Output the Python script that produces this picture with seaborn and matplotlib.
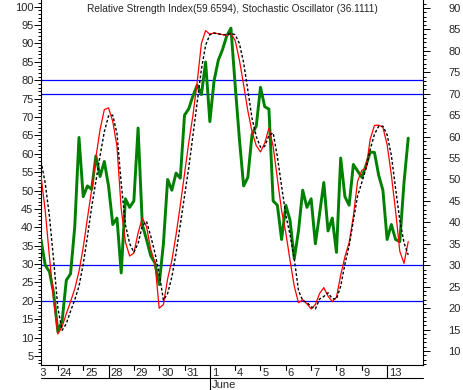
"""
RSI + Stochastic oscillator panel, redrawn with seaborn
"""

import numpy as np
import matplotlib
matplotlib.use("Agg")
import matplotlib.pyplot as plt
import matplotlib.transforms as mtransforms
from matplotlib.lines import Line2D
from matplotlib.patches import Rectangle
from matplotlib.ticker import MultipleLocator
import seaborn as sns

# ---- data (6 bars per trading day) ----
days = ['23', '24', '25', '28', '29', '30', '31', '1', '4', '5', '6', '7', '8', '9', '13']
week_breaks = ['28', '1', '13']
month_start = {'1': 'June'}
bars_per_day = 6
first_day_bar = -2

rsi = [
    36, 30, 28.5, 23.5, 14.5, 17, 26.5, 28, 39, 59.8,
    46, 48.5, 47.7, 55.5, 50.7, 54.2, 48.5, 39.5, 41, 28.2,
    45.5, 43.5, 45, 62, 39.5, 36, 32.2, 30.5, 25.5, 35,
    50, 47.5, 51.5, 50.3, 65, 66.5, 69.5, 72, 69.8, 77.4,
    63.5, 73, 77.8, 80.3, 83.5, 85.3, 72, 59.5, 48.5, 50.5,
    60.5, 62.5, 71.5, 67, 66.4, 45, 44, 36, 44, 40.5,
    31.5, 38, 47.5, 43.5, 45.5, 35, 42, 49.3, 38, 41,
    33, 55, 46, 44, 53.5, 52, 50.5, 53.3, 56.4, 56.3,
    51, 47.5, 36, 39.5, 36, 35.5, 49.3, 59.6594,
]

stoch_k = [
    54, 44.5, 32, 20, 11, 13, 16.5, 19.8, 23.3, 28,
    34.5, 42.5, 50.2, 59, 66.6, 72, 72.5, 68.8, 62, 45,
    36, 32.2, 33, 38.5, 42.5, 40.2, 34, 30.3, 18, 19,
    26, 31, 38, 46, 54.5, 63, 70.5, 79.5, 90, 93.5,
    92.5, 92.9, 92.6, 92.4, 92.2, 92.7, 90.8, 85.5, 78.8, 71.7,
    66, 62.2, 60.5, 62.9, 67, 62, 53.2, 44.5, 38.5, 31,
    24, 19.5, 20.3, 19.2, 17.8, 19, 22, 23.6, 21.3, 19.8,
    21, 27, 32, 35.8, 43, 52.5, 55.5, 56, 64, 67.7,
    67.8, 67.2, 62.5, 54.2, 44.5, 33.5, 30.2, 36.1111,
]

stoch_d = [
    58, 52, 43, 31, 18, 12, 13.8, 17.2, 20.3, 24,
    30, 37.5, 45.5, 52.5, 59.5, 66, 70.3, 70.5, 65.5, 52,
    40.7, 35.6, 33.2, 35.6, 40.4, 41.6, 37.6, 33, 27.5, 20.2,
    22, 26.5, 33, 40.7, 48.5, 56.2, 65, 74, 83, 89.5,
    92.4, 92.8, 92.6, 92.4, 92.4, 92.7, 92.4, 90, 84.8, 77.3,
    69.6, 64.7, 61.8, 62, 65, 65.7, 59.2, 51.2, 43.3, 38,
    31.5, 22.8, 20.1, 19.6, 18.4, 17.8, 20.5, 21.2, 22.2, 20.6,
    20.5, 24, 30, 35, 41.8, 48.5, 52.2, 56, 61.2, 65.3,
    67.5, 67.5, 65.2, 59.6, 50.6, 42, 35.8, 32.5,
]

rsi_levels = [70, 30]
stoch_levels = [80, 20]

title = "Relative Strength Index(59.6594), Stochastic Oscillator (36.1111)"

# ---- style ----
sns.set_style("white")
plt.rcParams['font.family'] = ['Liberation Sans', 'DejaVu Sans']

W, H = 464, 390
fig = plt.figure(figsize=(W / 100, H / 100), dpi=100)
ax = fig.add_axes([41 / W, 25 / H, 382 / W, 365 / H])
ax2 = ax.twinx()

bars = np.arange(len(rsi))

# reference levels (under the lines)
for lvl in rsi_levels:
    ax.axhline(lvl, color='#0000ff', lw=0.9, zorder=1)
level_trans = mtransforms.blended_transform_factory(ax.transAxes, ax2.transData)
for lvl in stoch_levels:
    ax.plot([0, 1], [lvl, lvl], transform=level_trans, color='#0000ff', lw=0.9, zorder=1)

sns.lineplot(x=bars, y=rsi, ax=ax, color='#008000', linewidth=2.1, zorder=3)
sns.lineplot(x=bars, y=stoch_k, ax=ax2, color='#ff0000', linewidth=0.9)
sns.lineplot(x=bars, y=stoch_d, ax=ax2, color='black', linewidth=1.0, linestyle=(0, (2, 1.5)))

ax.set_xlim(0, 90.5)
ax.set_ylim(6.73, 91.87)
ax2.set_ylim(2.56, 101.82)

# y axes: RSI on the right, stochastic on the left
ax.yaxis.tick_right()
ax2.yaxis.tick_left()
for a, side_pad in ((ax, 13.5), (ax2, 0.6)):
    a.yaxis.set_major_locator(MultipleLocator(5))
    a.yaxis.set_minor_locator(MultipleLocator(1))
    a.tick_params(axis='y', which='major', direction='out', length=4.8, width=0.7,
                  color='black', labelsize=8, pad=side_pad)
    a.tick_params(axis='y', which='minor', direction='out', length=2.4, width=0.7, color='black')
    a.set_ylabel('')
    a.set_xlabel('')
    a.set_xticks([])
ax.tick_params(axis='y', which='both', left=False, labelleft=False, right=True, labelright=True)
ax2.tick_params(axis='y', which='both', right=False, labelright=False, left=True, labelleft=True)

for s in ax2.spines.values():
    s.set_visible(False)
ax.spines['top'].set_visible(False)
for s in ('left', 'right', 'bottom'):
    ax.spines[s].set_color('black')
    ax.spines[s].set_linewidth(0.8)

# ---- date axis drawn by hand ----
def fy(px):
    return (H - px) / H

xtrans = mtransforms.blended_transform_factory(ax.transData, fig.transFigure)
label_trans = mtransforms.offset_copy(xtrans, fig=fig, x=2, y=0, units='dots')
clip_rect = Rectangle((41 / W, 0), 382 / W, 1, transform=fig.transFigure)

for k, d in enumerate(days):
    pos = first_day_bar + k * bars_per_day
    if d in week_breaks:
        bottom = 390 if d in month_start else 378
        fig.add_artist(Line2D([pos, pos], [fy(365), fy(bottom)], transform=xtrans,
                              color='black', lw=0.8))
    elif pos >= 0:
        fig.add_artist(Line2D([pos, pos], [fy(365), fy(370)], transform=xtrans,
                              color='black', lw=0.8))
    t = fig.text(pos, fy(372.5), d, transform=label_trans, ha='left', va='center', fontsize=8)
    t.set_clip_path(clip_rect)
    if d in month_start:
        fig.text(pos, fy(385), month_start[d], transform=label_trans,
                 ha='left', va='center', fontsize=8)

fig.add_artist(Line2D([41 / W, 423 / W], [fy(378), fy(378)], transform=fig.transFigure,
                      color='black', lw=0.8))

fig.text(232 / W, fy(9), title, ha='center', va='center', fontsize=7.3)

fig.savefig('out.png', dpi=100)
plt.close(fig)
